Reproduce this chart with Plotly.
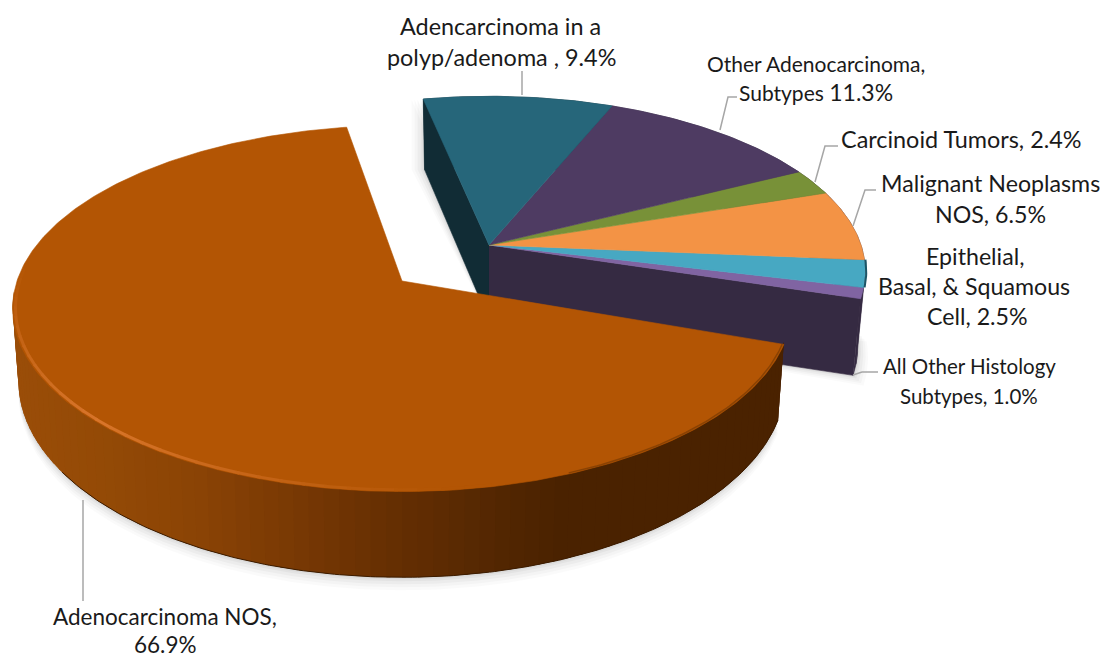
import numpy as np
import plotly.graph_objects as go

categories = ["Adenocarcinoma NOS", "All Other Histology Subtypes",
              "Epithelial, Basal, & Squamous Cell", "Malignant Neoplasms NOS",
              "Carcinoid Tumors", "Other Adenocarcinoma, Subtypes",
              "Adencarcinoma in a polyp/adenoma"]
values = [66.9, 1.0, 2.5, 6.5, 2.4, 11.3, 9.4]
top_colors = ["#b35504", "#8064a2", "#47a8c2", "#f39345", "#789138", "#4e3b62", "#26667a"]
side_colors = ["#4a2200", "#352a42", "#352a42", "#352a42", "#352a42", "#352a42", "#112c35"]

FIRST_ANGLE = 99.5      # degrees, counter-clockwise from +x
TILT = 0.15             # perspective strength

# scene projection (apex x, apex y, half width, half height, depth, depth x-scale, depth y-scale, rotation)
BIG = dict(cx=402, cy=281, a=385, b=179, d=71, sx=0.985, sy=1.07, rot=0.0)
GROUP = dict(cx=489, cy=245, a=372, b=171, d=75, sx=0.98, sy=1.03, rot=2.2)


def project(theta_deg, p, r=1.0, low=False):
    t = np.radians(np.asarray(theta_deg, dtype=float) + p["rot"])
    u, v = r * np.cos(t), r * np.sin(t)
    w = 1 + TILT * v
    dx, dy = p["a"] * u / w, -p["b"] * v / w
    if low:
        return p["cx"] + p["sx"] * dx, p["cy"] + p["d"] + p["sy"] * dy
    return p["cx"] + dx, p["cy"] + dy


def mix(c1, c2, f):
    a = [int(c1[i:i + 2], 16) for i in (1, 3, 5)]
    b = [int(c2[i:i + 2], 16) for i in (1, 3, 5)]
    return "#" + "".join(f"{round(x + (y - x) * f):02x}" for x, y in zip(a, b))


fig = go.Figure()


def poly(x, y, color, name=None, lw=0.6, line=None):
    fig.add_trace(go.Scatter(x=list(x), y=list(y), mode="lines", fill="toself",
                             fillcolor=color, line=dict(color=line or color, width=lw),
                             hoverinfo="text" if name else "skip", text=name,
                             hoveron="fills", showlegend=False))


def arc(a0, a1, n=None):
    n = n or max(3, int(abs(a1 - a0) * 1.5))
    return np.linspace(a0, a1, n)


# angular spans
spans = []
start = FIRST_ANGLE
for val in values:
    end = start + val * 3.6
    spans.append((start, end))
    start = end
big_span, small_spans = spans[0], spans[1:]

# ---- soft shadows ----
for grow, alpha in [(13, .018), (10, .025), (7, .03), (4, .035), (2, .04)]:
    th = arc(*big_span)
    x, y = project(th, BIG, low=True)
    poly(np.r_[x, BIG["cx"]], np.r_[y + grow, BIG["cy"]], f"rgba(0,0,0,{alpha})", lw=0)
    x, y = project(arc(small_spans[0][0], small_spans[0][0] + 14), GROUP, low=True)
    poly(np.r_[x + grow * .8, GROUP["cx"]], np.r_[y + grow * .8, GROUP["cy"] + GROUP["d"]],
         f"rgba(0,0,0,{alpha})", lw=0)
    a0 = small_spans[-1][1]
    x1, y1 = project(a0, GROUP, low=True)
    poly([x1 - grow, x1 - grow, GROUP["cx"] - grow, GROUP["cx"]],
         [y1, y1 - 70, GROUP["cy"], GROUP["cy"] + GROUP["d"]], f"rgba(0,0,0,{alpha})", lw=0)

# ---- exploded group: rim sides (far to near), cut faces, then top faces ----
for (a0, a1), col in list(zip(small_spans, side_colors[1:]))[::-1]:
    th = arc(a0, a1)
    xt, yt = project(th, GROUP)
    xb, yb = project(th, GROUP, low=True)
    poly(np.r_[xt, xb[::-1]], np.r_[yt, yb[::-1]], col)

# left cut face of the last slice
a = small_spans[-1][1]
xr, yr = project(a, GROUP)
xl, yl = project(a, GROUP, low=True)
poly([xr, GROUP["cx"], GROUP["cx"], xl], [yr, GROUP["cy"], GROUP["cy"] + GROUP["d"], yl], side_colors[-1])
# front cut face of the first slice
a = small_spans[0][0]
xr, yr = project(a, GROUP)
xl, yl = project(a, GROUP, low=True)
poly([GROUP["cx"], xr, xl, GROUP["cx"]], [GROUP["cy"], yr, yl, GROUP["cy"] + GROUP["d"]], side_colors[1])

for (a0, a1), col, name, val in zip(small_spans, top_colors[1:], categories[1:], values[1:]):
    x, y = project(arc(a0, a1), GROUP)
    poly(np.r_[GROUP["cx"], x, GROUP["cx"]], np.r_[GROUP["cy"], y, GROUP["cy"]], col, f"{name}: {val}%")

# dark edge beside the blue slice
xr, yr = project(arc(*small_spans[1]), GROUP)
fig.add_trace(go.Scatter(x=xr + 1, y=yr, mode="lines", line=dict(color="#1c5566", width=2),
                         hoverinfo="skip", showlegend=False))

# ---- large slice: side strips coloured by horizontal position ----
stops_x = [13, 100, 200, 300, 400, 480, 560, 790]
stops_c = ["#9a4d08", "#944a06", "#8a4305", "#773804", "#642e02", "#562802", "#4a2200", "#4a2200"]


def side_col(px):
    i = int(np.clip(np.searchsorted(stops_x, px) - 1, 0, len(stops_x) - 2))
    f = (px - stops_x[i]) / (stops_x[i + 1] - stops_x[i])
    return mix(stops_c[i], stops_c[i + 1], float(np.clip(f, 0, 1)))


edges = np.r_[np.arange(184, big_span[1], 2.0), big_span[1]]
for a0, a1 in zip(edges[:-1], edges[1:]):
    # each strip overlaps the next one so no gap can show between strips
    th = arc(a0, min(a1 + 2.5, big_span[1]), 5)
    xt, yt = project(th, BIG)
    xb, yb = project(th, BIG, low=True)
    mid = project((a0 + a1) / 2, BIG)[0]
    poly(np.r_[xt, xb[::-1]], np.r_[yt - 2, yb[::-1]], side_col(float(mid)), lw=0)
# thin darker bottom lip
x, y = project(arc(215, big_span[1]), BIG, low=True)
fig.add_trace(go.Scatter(x=x, y=y, mode="lines", line=dict(color="#3c1c00", width=1),
                         hoverinfo="skip", showlegend=False))

# top face
x, y = project(arc(*big_span), BIG)
poly(np.r_[BIG["cx"], x, BIG["cx"]], np.r_[BIG["cy"], y, BIG["cy"]], top_colors[0],
     f"{categories[0]}: {values[0]}%")

# bevel highlight along the rim
bev = np.arange(176, 282, 3.0)
for a0, a1 in zip(bev[:-1], bev[1:]):
    f = np.clip(1 - abs((a0 + a1) / 2 - 225) / 50, 0, 1)
    xr, yr = project(arc(a0, a1 + 0.5, 4), BIG, r=0.993)
    fig.add_trace(go.Scatter(x=xr, y=yr, mode="lines",
                             line=dict(color=mix("#b35504", "#d8752a", float(f)), width=3),
                             hoverinfo="skip", showlegend=False))
xr, yr = project(arc(292, big_span[1]), BIG, r=0.996)
fig.add_trace(go.Scatter(x=xr, y=yr, mode="lines", line=dict(color="#8a4203", width=1.5),
                         hoverinfo="skip", showlegend=False))

# ---- leader lines ----
leaders = [([522, 522], [71, 95]),
           ([720, 728, 737], [130, 97, 97]),
           ([815, 825, 838], [182, 146, 146]),
           ([853, 865, 876], [226, 190, 190]),
           ([853, 862, 878], [375, 372, 372]),
           ([83, 83], [500, 601])]
for lx, ly in leaders:
    fig.add_trace(go.Scatter(x=lx, y=ly, mode="lines", line=dict(color="#a6a6a6", width=1.5),
                             hoverinfo="skip", showlegend=False))

# ---- labels ----
label_lines = [
    ("Adencarcinoma in a", 500, 26, 23.4),
    ("polyp/adenoma , 9.4%", 501, 57, 23.4),
    ("Other Adenocarcinoma,", 816, 63, 21),
    ('Subtypes <span style="font-size:23px">11.3%</span>', 816, 92, 21),
    ("Carcinoid Tumors, 2.4%", 961, 139, 23.4),
    ("Malignant Neoplasms", 990, 183, 23.2),
    ("NOS, 6.5%", 990, 214, 23.2),
    ("Epithelial,", 975, 256, 23.2),
    ("Basal, &amp; Squamous", 974, 286, 23.2),
    ("Cell, 2.5%", 977, 316, 23.2),
    ("All Other Histology", 969, 366, 20.5),
    ("Subtypes, 1.0%", 969, 396, 20.5),
    ("Adenocarcinoma NOS,", 165, 616, 22.5),
    ("66.9%", 165, 644, 22.5),
]
for text, lx, ly, size in label_lines:
    fig.add_annotation(x=lx, y=ly, text=text, showarrow=False, xanchor="center", yanchor="middle",
                       font=dict(family="Lato", size=size, color="#1a1a1a"))

fig.update_xaxes(range=[0, 1103], visible=False, fixedrange=True)
fig.update_yaxes(range=[658, 0], visible=False, fixedrange=True)
fig.update_layout(width=1103, height=658, margin=dict(l=0, r=0, t=0, b=0),
                  paper_bgcolor="white", plot_bgcolor="white", showlegend=False,
                  hovermode="closest")
fig.write_html("out.html", config={"displayModeBar": False},
               post_script="document.body.style.margin='0';document.body.style.overflow='hidden';")
